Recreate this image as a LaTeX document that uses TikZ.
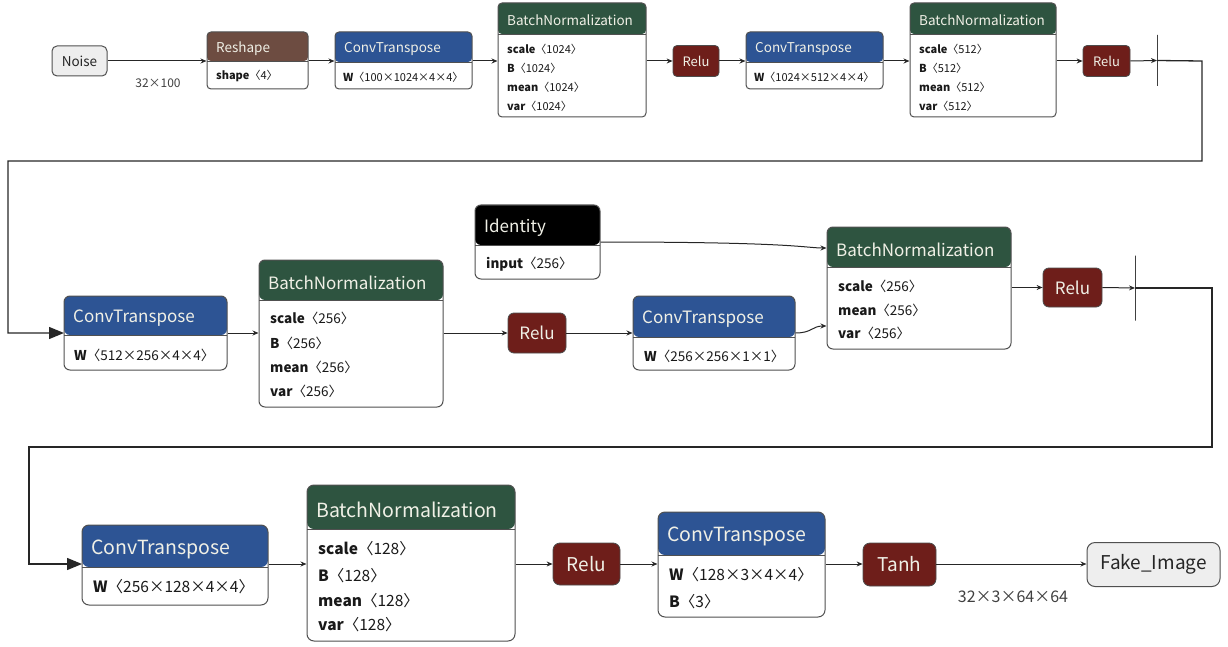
\documentclass[tikz,border=0pt]{standalone}
\usepackage{fontspec}
\setmainfont{Noto Sans CJK SC}
\usetikzlibrary{arrows.meta}
\definecolor{cbrown}{RGB}{109,76,65}
\definecolor{cblue}{RGB}{45,84,148}
\definecolor{cgreen}{RGB}{46,84,64}
\definecolor{cred}{RGB}{110,30,26}
\definecolor{cgray}{RGB}{238,238,238}
\definecolor{cedge}{RGB}{80,80,80}
\definecolor{htxt}{RGB}{240,240,230}
\tikzset{
 opframe/.style={draw=cedge, line width=1pt, fill=white, inner sep=0pt, rounded corners=4pt},
 ttl/.style={text=htxt, inner sep=0pt, font=\fontsize{13.5}{14}\selectfont},
 att/.style={text=black!90, inner sep=0pt, font=\fontsize{11}{12}\selectfont},
 act/.style={fill=cred, draw=black!70, line width=0.8pt, rounded corners=4pt, text=htxt, inner sep=0pt},
 io/.style={fill=cgray, draw=cedge, line width=1pt, rounded corners=5pt, text=black!85, inner sep=0pt},
 conn/.style={draw=black!85, line width=1pt, -{Stealth[length=6pt,width=5pt]}},
 loopl/.style={draw=black!85, line width=1.3pt, -{Triangle[length=15pt,width=12pt]}},
 tick/.style={draw=black!75, line width=1pt, minimum width=0pt, inner sep=0pt},
 dimlbl/.style={text=black!75, inner sep=0pt}
}
\def\tdy{2}
\newcommand\opbox[8]{%
 \node[opframe, minimum width={(#4-#2)*1pt}, minimum height={(#5-#3)*1pt},
   path picture={\fill[#7] (path picture bounding box.north west) rectangle ([yshift={-(#6-#3)*1pt}]path picture bounding box.north east);
   \draw[cedge, line width=0.8pt] ([yshift={-(#6-#3)*1pt}]path picture bounding box.north west) -- ([yshift={-(#6-#3)*1pt}]path picture bounding box.north east);}]
   (#1) at ({(#2+#4)/2},{(#3+#5)/2}) {};
 \node[ttl, anchor=west] (#1-t) at ({#2+9},{(#3+#6)/2+\tdy}) {#8};
}
\newcommand\attr[5]{\node[att, anchor=west] (#1) at (#2,#3) {\textbf{#4}#5};}
\begin{document}
\begin{tikzpicture}[x=1pt,y=-1pt]
\useasboundingbox (0,0) rectangle (1228,647);
% ---------------- row 1
\begin{scope}
\node[io, minimum width=55pt, minimum height=30pt, font=\fontsize{13.5}{14}\selectfont] (noise) at (79.5,61) {Noise};
\node[dimlbl, font=\fontsize{12}{13}\selectfont] (lbl1) at (158,83) {32×100};
\opbox{reshape}{207}{32}{308}{89}{61}{cbrown}{Reshape}
\attr{reshape-a}{216}{76}{shape}{〈4〉}
\opbox{ct1}{335}{32}{472}{89}{62}{cblue}{ConvTranspose}
\attr{ct1-a}{343}{77}{W}{〈100×1024×4×4〉}
\opbox{bn1}{498}{3}{646}{117}{34}{cgreen}{BatchNormalization}
\attr{bn1-a}{507}{49}{scale}{〈1024〉}
\attr{bn1-b}{507}{68}{B}{〈1024〉}
\attr{bn1-c}{507}{87}{mean}{〈1024〉}
\attr{bn1-d}{507}{106}{var}{〈1024〉}
\node[act, minimum width=46pt, minimum height=31pt, font=\fontsize{13}{14}\selectfont] (relu1) at (696,61) {Relu};
\opbox{ct2}{746}{32}{883}{89}{62}{cblue}{ConvTranspose}
\attr{ct2-a}{754}{77}{W}{〈1024×512×4×4〉}
\opbox{bn2}{910}{3}{1056}{117}{34}{cgreen}{BatchNormalization}
\attr{bn2-a}{919}{49}{scale}{〈512〉}
\attr{bn2-b}{919}{68}{B}{〈512〉}
\attr{bn2-c}{919}{87}{mean}{〈512〉}
\attr{bn2-d}{919}{106}{var}{〈512〉}
\node[act, minimum width=47pt, minimum height=31pt, font=\fontsize{13}{14}\selectfont] (relu2) at (1106.5,61) {Relu};
\node[tick, minimum height=51pt] (t1) at (1157,60.5) {};
\coordinate (r1) at (0,61);
\draw[conn] (noise.east) -- (reshape.west |- r1);
\draw[conn] (reshape.east |- r1) -- (ct1.west |- r1);
\draw[conn] (ct1.east |- r1) -- (bn1.west |- r1);
\draw[conn] (bn1.east |- r1) -- (relu1.west);
\draw[conn] (relu1.east) -- (ct2.west |- r1);
\draw[conn] (ct2.east |- r1) -- (bn2.west |- r1);
\draw[conn] (bn2.east |- r1) -- (relu2.west);
\draw[conn] (relu2.east) -- (t1.center);
\end{scope}
\draw[loopl] (t1.center) -- (1202,61) -- (1202,161) -- (8,161) -- (8,333) -- (64,333);
% ---------------- row 2
\begin{scope}[ttl/.append style={font=\fontsize{17}{18}\selectfont}, att/.append style={font=\fontsize{13.5}{14}\selectfont}, opframe/.append style={rounded corners=6pt}, act/.append style={rounded corners=6pt}]
\def\tdy{3}
\opbox{ct3}{64}{296}{227}{370}{335}{cblue}{ConvTranspose}
\attr{ct3-a}{74}{355}{W}{〈512×256×4×4〉}
\opbox{bn3}{259}{260}{443}{407}{300}{cgreen}{BatchNormalization}
\attr{bn3-a}{270}{318}{scale}{〈256〉}
\attr{bn3-b}{270}{343}{B}{〈256〉}
\attr{bn3-c}{270}{367}{mean}{〈256〉}
\attr{bn3-d}{270}{391}{var}{〈256〉}
\node[act, minimum width=58pt, minimum height=40pt, font=\fontsize{17}{18}\selectfont] (relu3) at (537,333) {Relu};
\opbox{ident}{475}{205}{600}{279}{245}{black}{Identity}
\attr{ident-a}{486}{264}{input}{〈256〉}
\opbox{ct4}{633}{296}{795}{370}{337}{cblue}{ConvTranspose}
\attr{ct4-a}{644}{356}{W}{〈256×256×1×1〉}
\opbox{bn4}{827}{227}{1011}{349}{267}{cgreen}{BatchNormalization}
\attr{bn4-a}{838}{286}{scale}{〈256〉}
\attr{bn4-b}{838}{310}{mean}{〈256〉}
\attr{bn4-c}{838}{333}{var}{〈256〉}
\node[act, minimum width=59pt, minimum height=39pt, font=\fontsize{17}{18}\selectfont] (relu4) at (1072.5,287.5) {Relu};
\node[tick, minimum height=65pt] (t2) at (1135,288) {};
\coordinate (r2) at (0,333);
\draw[conn] (ct3.east |- r2) -- (bn3.west |- r2);
\draw[conn] (bn3.east |- r2) -- (relu3.west);
\draw[conn] (relu3.east) -- (ct4.west |- r2);
\draw[conn] (ident.east) .. controls (795,242) and (805,248) .. (bn4.west |- 0,248);
\draw[conn] (ct4.east) .. controls (812,333) and (812,326) .. (bn4.west |- 0,326);
\draw[conn] (bn4.east |- relu4) -- (relu4.west);
\draw[conn] (relu4.east) -- (t2.center);
\end{scope}
\draw[loopl] (t2.center) -- (1212,288) -- (1212,447) -- (29,447) -- (29,564) -- (82,564);
% ---------------- row 3
\begin{scope}[ttl/.append style={font=\fontsize{19.5}{20}\selectfont}, att/.append style={font=\fontsize{15.5}{16}\selectfont}, opframe/.append style={rounded corners=7pt}, act/.append style={rounded corners=7pt}, io/.append style={rounded corners=8pt}]
\def\tdy{3}
\opbox{ct5}{82}{525}{268}{605}{567}{cblue}{ConvTranspose}
\attr{ct5-a}{93}{587}{W}{〈256×128×4×4〉}
\opbox{bn5}{307}{485}{515}{641}{529}{cgreen}{BatchNormalization}
\attr{bn5-a}{318}{549}{scale}{〈128〉}
\attr{bn5-b}{318}{576}{B}{〈128〉}
\attr{bn5-c}{318}{601}{mean}{〈128〉}
\attr{bn5-d}{318}{625}{var}{〈128〉}
\node[act, minimum width=67pt, minimum height=42pt, font=\fontsize{19}{20}\selectfont] (relu5) at (586.5,564) {Relu};
\opbox{ct6}{658}{512}{825}{617}{555}{cblue}{ConvTranspose}
\attr{ct6-a}{669}{575}{W}{〈128×3×4×4〉}
\attr{ct6-b}{669}{602}{B}{〈3〉}
\node[act, minimum width=73pt, minimum height=43pt, font=\fontsize{19}{20}\selectfont] (tanh) at (899.5,564.5) {Tanh};
\node[io, minimum width=133pt, minimum height=44pt, font=\fontsize{19}{20}\selectfont] (fake) at (1153.5,564.5) {Fake\_Image};
\node[dimlbl, font=\fontsize{16}{17}\selectfont] (lbl2) at (1013,597) {32×3×64×64};
\coordinate (r3) at (0,564);
\draw[conn] (ct5.east |- r3) -- (bn5.west |- r3);
\draw[conn] (bn5.east |- r3) -- (relu5.west |- r3);
\draw[conn] (relu5.east |- r3) -- (ct6.west |- r3);
\draw[conn] (ct6.east |- r3) -- (tanh.west |- r3);
\draw[conn] (tanh.east |- r3) -- (fake.west |- r3);
\end{scope}
\end{tikzpicture}
\end{document}
